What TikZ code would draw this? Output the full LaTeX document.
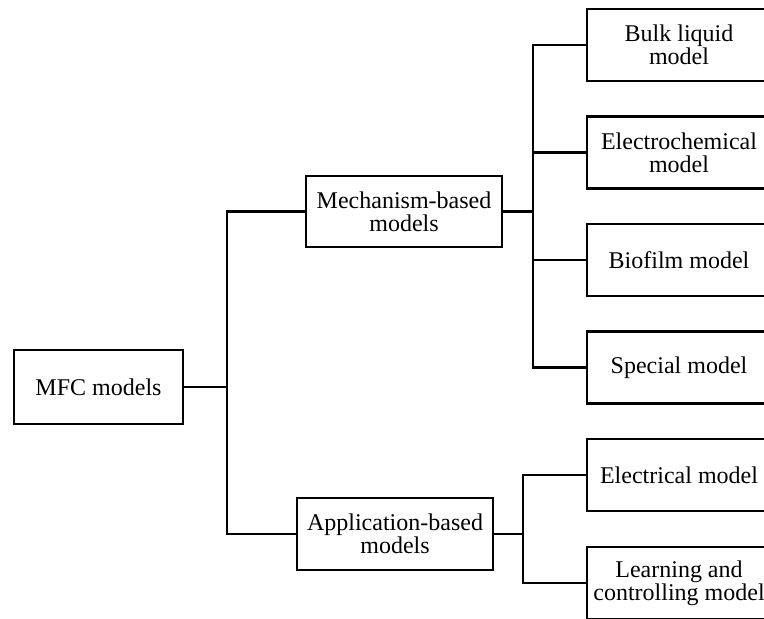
\documentclass[tikz,border=0pt]{standalone}
\usepackage{fontspec}
\setmainfont{Liberation Serif}
\usepackage{tikz}
\usetikzlibrary{positioning}
\tikzset{
  modelbox/.style={draw, line width=1.3pt, align=center, inner sep=2pt,
    font=\fontsize{12}{11.5}\selectfont, minimum height=36pt},
  wire/.style={line width=1.3pt}
}

\begin{document}
\begin{tikzpicture}[x=0.5pt, y=-0.5pt]
        \useasboundingbox (0,0) rectangle (764,618);

        % Root and the two families
        \node[modelbox, minimum width=84.5pt, minimum height=37pt] (mfc) at (98.5,387) {MFC models};
        \node[modelbox, minimum width=98pt, minimum height=35.5pt] (mech) at (404,211.5) {Mechanism-based\\models};
        \node[modelbox, minimum width=98pt] (app) at (395,534) {Application-based\\models};

        % Leaf models
        \node[modelbox, minimum width=92pt] (bulk) at (679,45) {Bulk liquid\\model};
        \node[modelbox, minimum width=92pt] (echem) at (679,152.5) {Electrochemical\\model};
        \node[modelbox, minimum width=92pt] (biofilm) at (679,260) {Biofilm model};
        \node[modelbox, minimum width=92pt] (special) at (679,367.5) {Special model};
        \node[modelbox, minimum width=92pt] (electrical) at (679,475) {Electrical model};
        \node[modelbox, minimum width=92pt] (learning) at (679,583) {Learning and\\controlling model};

        % Trunks of the tree
        \coordinate (jroot) at (227,0);
        \coordinate (jmech) at (533,0);
        \coordinate (japp) at (523,0);

        % Root to the families
        \draw[wire] (mfc.east) -- (mfc.east -| jroot);
        \draw[wire] (mech.west) -| (jroot |- app.west) -- (app.west);

        % Mechanism-based branch
        \draw[wire] (mech.east) -- (mech.east -| jmech);
        \draw[wire] (bulk.west) -| (jmech |- special.west) -- (special.west);
        \foreach \leaf in {echem, biofilm}
            \draw[wire] (\leaf.west) -- (\leaf.west -| jmech);

        % Application-based branch
        \draw[wire] (app.east) -- (app.east -| japp);
        \draw[wire] (electrical.west) -| (japp |- learning.west) -- (learning.west);
\end{tikzpicture}
\end{document}
